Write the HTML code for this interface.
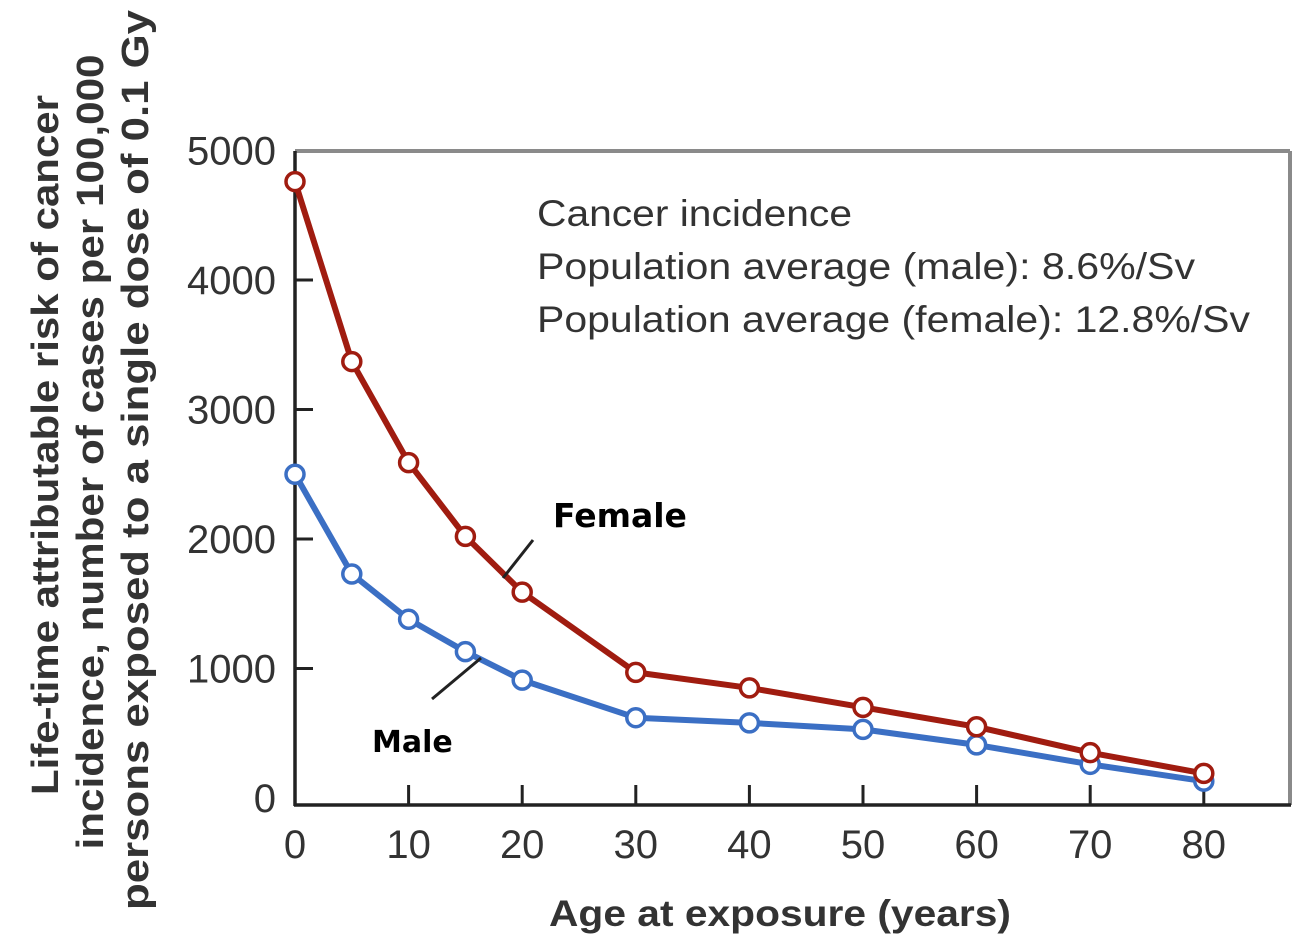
<!DOCTYPE html>
<html><head><meta charset="utf-8">
<style>
html,body{margin:0;padding:0;background:#fff;}
svg{display:block;font-family:"Liberation Sans",Arial,sans-serif;}
</style></head>
<body>
<svg id="chart" width="1304" height="949" viewBox="0 0 1304 949" xmlns="http://www.w3.org/2000/svg">
  <rect x="0" y="0" width="1304" height="949" fill="#fff"/>
  <line x1="295" y1="151" x2="1290" y2="151" stroke="#8a8a8a" stroke-width="4"/>
  <line x1="1290" y1="151" x2="1290" y2="805" stroke="#8a8a8a" stroke-width="4"/>
  <line x1="295" y1="151" x2="295" y2="806" stroke="#222" stroke-width="3.5"/>
  <line x1="294" y1="805" x2="1291" y2="805" stroke="#222" stroke-width="3.5"/>
  <g id="yticks"></g>
  <g id="xticks"></g>
  <g id="series"></g>
  <g font-size="37" fill="#333">
    <text x="537" y="226" textLength="315" lengthAdjust="spacingAndGlyphs">Cancer incidence</text>
    <text x="537" y="279" textLength="658" lengthAdjust="spacingAndGlyphs">Population average (male): 8.6%/Sv</text>
    <text x="537" y="332" textLength="713" lengthAdjust="spacingAndGlyphs">Population average (female): 12.8%/Sv</text>
  </g>
  <text x="553" y="527" font-family="'DejaVu Sans',sans-serif" font-weight="bold" font-size="33" fill="#000">Female</text>
  <line x1="533" y1="540" x2="503" y2="578" stroke="#222" stroke-width="3"/>
  <text x="372" y="752" font-family="'DejaVu Sans',sans-serif" font-weight="bold" font-size="30" fill="#000">Male</text>
  <line x1="432" y1="699" x2="481" y2="658" stroke="#222" stroke-width="3"/>
  <text x="780" y="926" text-anchor="middle" font-weight="bold" font-size="37" fill="#333" textLength="462" lengthAdjust="spacingAndGlyphs">Age at exposure (years)</text>
  <g font-weight="bold" font-size="38" fill="#333" text-anchor="middle">
    <text x="0" y="0" transform="translate(58,445) rotate(-90)" textLength="700" lengthAdjust="spacingAndGlyphs">Life-time attributable risk of cancer</text>
    <text x="0" y="0" transform="translate(103,452) rotate(-90)" textLength="795" lengthAdjust="spacingAndGlyphs">incidence, number of cases per 100,000</text>
    <text x="0" y="0" transform="translate(148,460) rotate(-90)" textLength="900" lengthAdjust="spacingAndGlyphs">persons exposed to a single dose of 0.1 Gy</text>
  </g>
</svg>
<script>
const ages = [0,5,10,15,20,30,40,50,60,70,80];
const femaleValues = [4760,3370,2590,2020,1590,970,850,700,550,350,190];
const maleValues = [2500,1730,1380,1130,910,620,580,530,410,260,130];
const yTickValues = [0,1000,2000,3000,4000,5000];
const yTickLabels = ["0","1000","2000","3000","4000","5000"];
const xTickValues = [0,10,20,30,40,50,60,70,80];
const xTickLabels = ["0","10","20","30","40","50","60","70","80"];

const NS = "http://www.w3.org/2000/svg";
function xs(v){ return 295 + v*11.36; }
function ys(v){ return 798 - v*0.1295; }
function mk(tag, attrs, parent){
  const e = document.createElementNS(NS, tag);
  for (const k in attrs) e.setAttribute(k, attrs[k]);
  parent.appendChild(e); return e;
}
const yt = document.getElementById('yticks');
yTickValues.forEach((v,i)=>{
  const y = ys(v);
  if (v>0 && v<5000){
    const l = mk('line',{x1:295,x2:313,y1:y,y2:y,stroke:'#222','stroke-width':3},yt);
    
    
  }
  const t = mk('text',{x:276,y:y+14,'text-anchor':'end','font-size':40,fill:'#333'},yt);
  t.textContent = yTickLabels[i];
  
  
});
const xt = document.getElementById('xticks');
xTickValues.forEach((v,i)=>{
  const x = xs(v);
  if (v>0){
    const l = mk('line',{x1:x,x2:x,y1:805,y2:785,stroke:'#222','stroke-width':3},xt);
    
    
  }
  const t = mk('text',{x:x,y:858,'text-anchor':'middle','font-size':40,fill:'#333'},xt);
  t.textContent = xTickLabels[i];
  
  
});
const sg = document.getElementById('series');
function drawSeries(vals, color, name){
  const pts = ages.map((a,i)=>xs(a)+','+ys(vals[i])).join(' ');
  const pl = mk('polyline',{points:pts,fill:'none',stroke:color,'stroke-width':6,'stroke-linejoin':'round'},sg);
  
  
  ages.forEach((a,i)=>{
    const c = mk('circle',{cx:xs(a),cy:ys(vals[i]),r:9,fill:'#fff',stroke:color,'stroke-width':3.5},sg);
    
    
  });
}
drawSeries(maleValues,'#3b6fc4','male');
drawSeries(femaleValues,'#a01c10','female');
</script>
</body></html>
